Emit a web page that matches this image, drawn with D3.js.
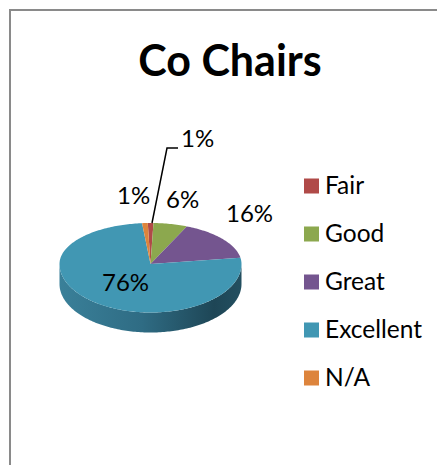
<!DOCTYPE html>
<html>
<head>
<meta charset="utf-8">
<script src="https://cdn.jsdelivr.net/npm/d3@7"></script>
<style>
  html, body { margin: 0; padding: 0; background: #fff; }
  svg { display: block; }
  text { font-family: Lato, "Open Sans", sans-serif; fill: #000; }
</style>
</head>
<body>
<div id="plot"></div>
<script>
const title = 'Co Chairs';
const categories = ['Fair', 'Good', 'Great', 'Excellent', 'N/A'];
const values = [1, 6, 16, 76, 1];
const labels = ['1%', '6%', '16%', '76%', '1%'];
const colors = ['#b04a48', '#8ca84e', '#74558f', '#4197b3', '#dd843c'];

const width = 437;
const height = 465;

// pie is a tilted circle: back half looks flatter than the front half
const cx = 150.5;
const cy = 264;
const rx = 91;
const ryBack = 41;
const ryFront = 48.5;
const depth = 20;
const rotation = -0.03;

const svg = d3.select('#plot').append('svg')
  .attr('width', width)
  .attr('height', height);

const defs = svg.append('defs');
const wallGrad = defs.append('linearGradient')
  .attr('id', 'wall')
  .attr('x1', '0%').attr('x2', '100%')
  .attr('y1', '0%').attr('y2', '0%');
wallGrad.append('stop').attr('offset', '0%').attr('stop-color', '#3a8099');
wallGrad.append('stop').attr('offset', '45%').attr('stop-color', '#2f6c84');
wallGrad.append('stop').attr('offset', '85%').attr('stop-color', '#1e4656');
wallGrad.append('stop').attr('offset', '100%').attr('stop-color', '#234f60');

// frame, open on the right and at the bottom
svg.append('path')
  .attr('d', `M10,${height}V10H${width}`)
  .attr('fill', 'none')
  .attr('stroke', '#8a8a8a')
  .attr('stroke-width', 2);

svg.append('text')
  .attr('x', 230)
  .attr('y', 76)
  .attr('text-anchor', 'middle')
  .attr('font-size', 43)
  .attr('font-weight', 700)
  .text(title);

const pie = d3.pie().sort(null).value(d => d)
  .startAngle(rotation)
  .endAngle(rotation + Math.PI * 2)(values);

function rimPoint(a, dy) {
  const c = Math.cos(a);
  return [cx + rx * Math.sin(a), cy - (c > 0 ? ryBack : ryFront) * c + dy];
}

function angles(a0, a1) {
  return d3.range(a0, a1, 0.02).concat([a1]);
}

// side wall: only the part of each slice facing the viewer
const line = d3.line();
const wall = svg.append('g');
pie.forEach(d => {
  const a0 = Math.max(d.startAngle, Math.PI / 2);
  const a1 = Math.min(d.endAngle, Math.PI * 1.5);
  if (a1 <= a0) return;
  const steps = angles(a0, a1);
  const pts = steps.map(a => rimPoint(a, 0))
    .concat(steps.slice().reverse().map(a => rimPoint(a, depth)));
  wall.append('path')
    .attr('d', line(pts) + 'Z')
    .attr('fill', 'url(#wall)');
});

svg.append('g')
  .selectAll('path')
  .data(pie)
  .join('path')
  .attr('d', d => line([[cx, cy]].concat(angles(d.startAngle, d.endAngle).map(a => rimPoint(a, 0)))) + 'Z')
  .attr('fill', (d, i) => colors[i]);

// data labels, positions picked by hand off the reference
const labelPos = [[181, 147], [166, 208], [226, 222], [102, 291], [117, 204]];
svg.append('g')
  .selectAll('text')
  .data(labels)
  .join('text')
  .attr('x', (d, i) => labelPos[i][0])
  .attr('y', (d, i) => labelPos[i][1])
  .attr('font-size', 24)
  .text(d => d);

// leader line for the Fair label
svg.append('path')
  .attr('d', line([[152, 223], [167, 148], [178, 148]]))
  .attr('fill', 'none')
  .attr('stroke', '#000')
  .attr('stroke-width', 1.5);

// legend
const legendY = d3.scalePoint()
  .domain(categories)
  .range([186, 378]);

const legend = svg.append('g')
  .selectAll('g')
  .data(categories)
  .join('g')
  .attr('transform', d => `translate(304,${legendY(d)})`);

legend.append('rect')
  .attr('x', 0)
  .attr('y', -7.5)
  .attr('width', 15)
  .attr('height', 15)
  .attr('fill', (d, i) => colors[i]);

legend.append('text')
  .attr('x', 21)
  .attr('y', 8)
  .attr('font-size', 24.5)
  .text(d => d);
</script>
</body>
</html>
